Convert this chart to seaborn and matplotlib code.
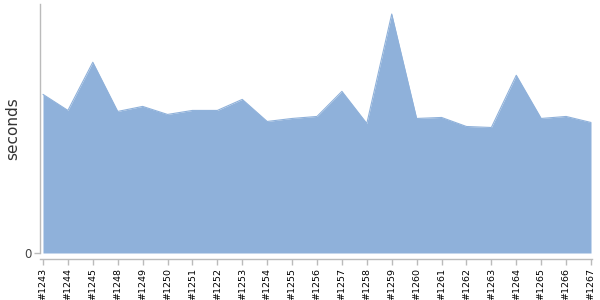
import matplotlib
matplotlib.use("Agg")
import matplotlib.pyplot as plt
import seaborn as sns
import pandas as pd
import numpy as np

builds = ["#1243", "#1244", "#1245", "#1248", "#1249", "#1250", "#1251", "#1252",
          "#1253", "#1254", "#1255", "#1256", "#1257", "#1258", "#1259", "#1260",
          "#1261", "#1262", "#1263", "#1264", "#1265", "#1266", "#1267"]
seconds = [158, 142, 190, 141, 146, 138, 142, 142,
           153, 131, 134, 136, 161, 129, 238, 134,
           135, 126, 125, 177, 134, 136, 130]

sns.set_theme(style="white")
plt.rcParams['font.family'] = ['DejaVu Sans']

df = pd.DataFrame({"build": builds, "seconds": seconds, "pos": np.arange(len(builds))})

fig = plt.figure(figsize=(6, 3), dpi=100)
ax = fig.add_axes([40/600, 1-253/300, 552/600, 249/300])

color = "#8FB1DA"
sns.lineplot(data=df, x="pos", y="seconds", ax=ax, color=color, linewidth=0.8)
ax.fill_between(df["pos"], 0, df["seconds"], color=color, linewidth=0)

ax.set_xlim(-0.12, 22.04)
ax.set_ylim(0, 248)
ax.set_xticks(df["pos"].tolist())
ax.set_xticklabels(builds)
ax.set_yticks([0])
ax.set_yticklabels(["0"])
ax.set_xlabel("")
ax.set_ylabel("seconds", fontsize=11, color="#333333")

for s in ["top", "right"]:
    ax.spines[s].set_visible(False)
for s in ["left", "bottom"]:
    ax.spines[s].set_color("#BBBBBB")
    ax.spines[s].set_linewidth(1)
ax.spines["bottom"].set_position(("outward", 4))
ax.tick_params(axis="both", which="both", length=4, width=1, color="#BBBBBB",
               bottom=True, left=True, pad=2)
ax.tick_params(axis="x", labelrotation=90, labelsize=6.8, labelcolor="#000000", pad=2.5)
ax.tick_params(axis="y", labelsize=8.5, labelcolor="#444444")
ax.yaxis.set_label_coords(-20/552, 0.5)

fig.savefig("out.png", dpi=100)
